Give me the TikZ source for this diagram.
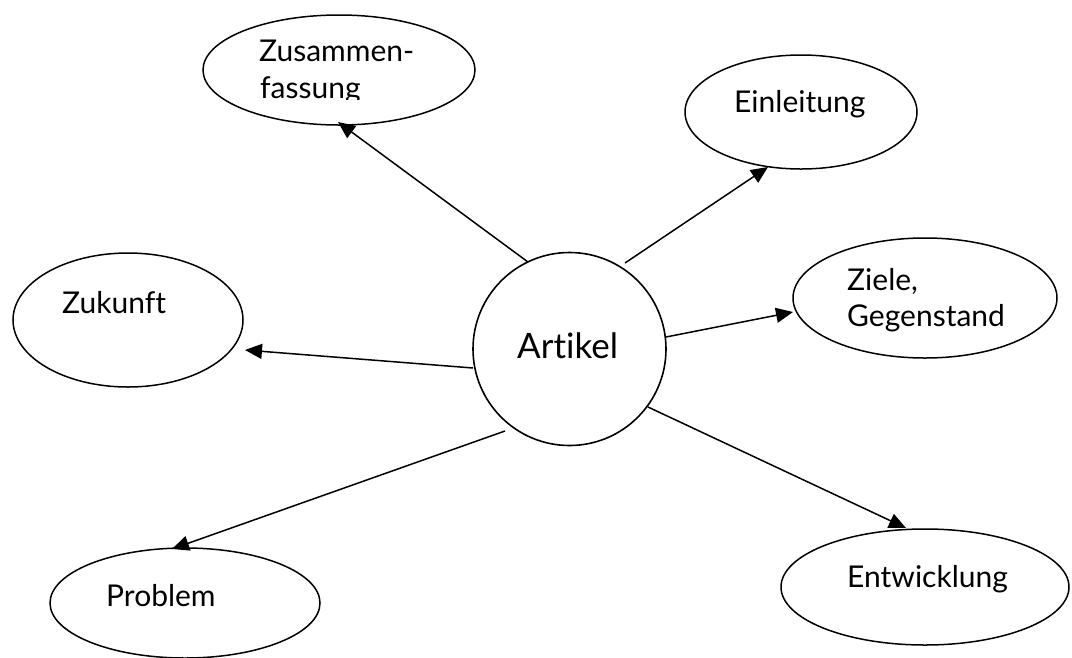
\documentclass[tikz,border=0pt]{standalone}
\usepackage{fontspec}
\setmainfont[Ligatures=NoCommon]{Lato}
\usetikzlibrary{arrows.meta,shapes.geometric}
\begin{document}
\begin{tikzpicture}[x=1pt,y=-1pt,
  bub/.style={draw=black,line width=1.5pt,ellipse,inner sep=0pt},
  lbl/.style={anchor=base west,inner sep=0pt,font=\fontsize{30}{36}\selectfont},
  arr/.style={line width=1.5pt,-{Triangle[length=17pt,width=15pt]}}]
\useasboundingbox (0,0) rectangle (1072,657);
\fill[white] (0,0) rectangle (1072,657);
% shapes
\node[bub,minimum width=272pt,minimum height=110pt] (zus) at (339,70) {};
\node[bub,minimum width=232pt,minimum height=114pt] (ein) at (801,112) {};
\node[bub,minimum width=264pt,minimum height=120pt] (ziel) at (925,298) {};
\node[bub,minimum width=230pt,minimum height=134pt] (zuk) at (128,320) {};
\node[bub,minimum width=270pt,minimum height=110pt] (prob) at (185,603) {};
\node[bub,minimum width=288pt,minimum height=116pt] (entw) at (925,587) {};
\node[draw=black,line width=1.6pt,circle,minimum size=193pt,inner sep=0pt] (art) at (569.5,349) {};
% labels
\begin{scope}
\clip (200,0) rectangle (480,99.5);
\node[lbl] (zusA) at (259,61) {Zusammen-};
\node[lbl] (zusB) at (260,98) {fassung};
\end{scope}
\node[lbl] (einT) at (734,112) {Einleitung};
\node[lbl] (zielA) at (847,290) {Ziele,};
\node[lbl] (zielB) at (847,326) {Gegenstand};
\node[lbl] (zukT) at (62,313) {Zukunft};
\node[lbl] (probT) at (106,606) {Problem};
\node[lbl] (entwT) at (847,587) {Entwicklung};
\node[lbl,font=\fontsize{35}{42}\selectfont] (artT) at (517,358) {Artikel};
% connector ends
\coordinate (s1) at (528,262); \coordinate (e1) at (338,122);
\coordinate (s2) at (625,263); \coordinate (e2) at (768,167);
\coordinate (s3) at (666,337); \coordinate (e3) at (793,312);
\coordinate (s4) at (648,407); \coordinate (e4) at (906,528);
\coordinate (s5) at (505,431); \coordinate (e5) at (172,549);
\coordinate (s6) at (473,368); \coordinate (e6) at (245,350);
\draw[arr] (s1) -- (e1);
\draw[arr] (s2) -- (e2);
\draw[arr] (s3) -- (e3);
\draw[arr] (s4) -- (e4);
\draw[arr] (s5) -- (e5);
\draw[arr] (s6) -- (e6);
\end{tikzpicture}
\end{document}
